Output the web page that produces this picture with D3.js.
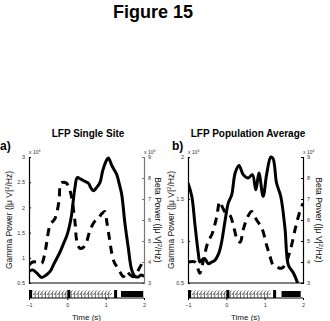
<!DOCTYPE html>
<html><head><meta charset="utf-8">
<script src="https://cdn.jsdelivr.net/npm/d3@7"></script>
<style>body{margin:0;background:#fff}svg{display:block;font-family:"Liberation Sans",Arial,sans-serif}</style>
</head><body><svg id="c" width="330" height="321"></svg>
<script>
// ---------- data ----------
const figTitle = "Figure 15";
const panelTitles = ["LFP Single Site", "LFP Population Average"];
const panelLetters = ["a)", "b)"];
const timeTicks = [-1, 0, 1, 2];

// Panel a
const aGammaT = [-1,-0.9,-0.8,-0.67,-0.55,-0.45,-0.35,-0.2,-0.1,0.0,0.1,0.15,0.2,0.26,0.35,0.45,0.55,0.62,0.68,0.75,0.85,0.92,1.0,1.07,1.15,1.22,1.29,1.36,1.42,1.5,1.59,1.68,1.77,1.85,1.92,2.0];
const aGammaV = [0.73,0.76,0.70,0.61,0.66,0.73,0.88,1.1,1.28,1.47,1.8,2.1,2.4,2.59,2.56,2.52,2.48,2.38,2.33,2.38,2.49,2.72,2.9,2.98,2.85,2.75,2.65,2.45,2.25,1.7,1.2,0.76,0.63,0.62,0.66,0.63];
const aBetaT = [-1,-0.9,-0.8,-0.67,-0.6,-0.54,-0.45,-0.32,-0.22,-0.17,-0.1,-0.02,0.05,0.11,0.2,0.25,0.33,0.42,0.49,0.59,0.7,0.81,0.9,0.98,1.03,1.1,1.16,1.22,1.29,1.38,1.46,1.55,1.63,1.72,1.8,1.9,2.0];
const aBetaV = [3.86,4.0,4.0,3.94,4.3,4.9,5.76,6.08,6.87,7.75,7.8,7.75,7.5,7.1,5.9,4.97,4.65,4.7,4.9,5.5,5.9,6.08,6.3,6.4,5.9,5.1,4.41,4.0,3.78,3.5,3.3,3.54,3.4,3.3,3.45,3.78,4.1];
const aGammaTicks = [0.5, 1, 1.5, 2, 2.5, 3];

// Panel b
const bGammaT = [-1,-0.9,-0.82,-0.73,-0.69,-0.62,-0.56,-0.47,-0.38,-0.3,-0.2,-0.13,-0.03,0.05,0.14,0.23,0.33,0.44,0.57,0.68,0.77,0.85,0.96,1.05,1.16,1.22,1.31,1.42,1.53,1.62,1.75,1.86];
const bGammaV = [1.69,1.53,1.2,0.85,0.75,0.78,0.79,0.73,0.75,0.77,0.85,0.97,1.25,1.45,1.55,1.81,1.9,1.79,1.75,1.79,1.61,1.81,1.53,1.79,2.0,1.98,1.69,1.53,1.15,0.71,0.62,0.5];
const bBetaT = [-1,-0.82,-0.73,-0.69,-0.62,-0.56,-0.47,-0.38,-0.26,-0.17,-0.1,0.0,0.09,0.2,0.3,0.36,0.45,0.57,0.66,0.79,0.93,1.05,1.13,1.22,1.33,1.44,1.53,1.66,1.8,1.9,2.0];
const bBetaV = [4.0,4.0,3.62,3.46,3.9,4.41,5.0,5.3,6.08,6.87,6.6,6.3,6.24,5.6,5.0,4.95,5.6,6.2,6.4,6.0,5.6,4.8,4.33,3.86,3.75,3.7,3.86,4.5,5.6,6.3,6.8];
const bGammaTicks = [0.5, 1, 1.5, 2];

const betaTicks = [3, 4, 5, 6, 7, 8, 9];

// raster events (s)
const spikeTimes = [-0.93,-0.84,-0.75,-0.66,-0.57,-0.48,-0.39,-0.3,-0.21,-0.12,-0.04,0.1,0.19,0.28,0.37,0.46,0.55,0.64,0.73,0.82,0.91,1.0,1.08];
const markerEvents = [-1, 0, 1.22];
const aBlock = [1.4, 1.98];
const bBlock = [1.44, 1.94];

// ---------- drawing ----------
const svg = d3.select("#c");
const fmt = d3.format("");
svg.append("text").attr("x",153).attr("y",18).attr("text-anchor","middle")
  .attr("font-weight","bold").attr("font-size",18).text(figTitle);

function panel(o){
  const g = svg.append("g");
  const x = d3.scaleLinear().domain([-1,2]).range([o.x0,o.x1]);
  const yL = d3.scaleLinear().domain(o.gDomain).range([283,157]);
  const yR = d3.scaleLinear().domain([3,9]).range([283,157]);

  // titles
  g.append("text").attr("x",o.titleX).attr("y",137).attr("text-anchor","middle")
    .attr("font-weight","bold").attr("font-size",10).text(o.title);
  g.append("text").attr("x",o.letterX).attr("y",150)
    .attr("font-weight","bold").attr("font-size",12).text(o.letter);

  // left axis
  const la = g.append("g").attr("transform",`translate(${o.x0},0)`)
    .call(d3.axisLeft(yL).tickValues(o.gTicks).tickSize(-2).tickPadding(4).tickFormat(fmt));
  la.select(".domain").attr("stroke","#000").attr("stroke-width",1.2);
  la.selectAll("text").attr("font-size",5.5).attr("fill","#333").attr("font-family","Liberation Sans, Arial");
  // right axis
  const ra = g.append("g").attr("transform",`translate(${o.x1},0)`)
    .call(d3.axisRight(yR).tickValues(betaTicks).tickSize(-2).tickPadding(4).tickFormat(fmt));
  ra.select(".domain").attr("stroke",o.rightColor).attr("stroke-width",1.2);
  ra.selectAll("line").attr("stroke",o.rightColor);
  ra.selectAll("text").attr("font-size",5.5).attr("fill","#333").attr("font-family","Liberation Sans, Arial");
  // bottom line
  g.append("line").attr("x1",o.x0).attr("x2",o.x1).attr("y1",283).attr("y2",283).attr("stroke","#000");

  // x10^4 labels
  [o.x0, o.x1].forEach(px=>{
    const t = g.append("text").attr("x",px).attr("y",154).attr("font-size",5).attr("fill","#333");
    t.append("tspan").text("x 10");
    t.append("tspan").attr("dy",-2).attr("font-size",3.5).text("4");
  });

  // y labels
  const yl = g.append("text").attr("transform",`translate(${o.gLabelX},220) rotate(-90)`)
    .attr("text-anchor","middle").attr("font-size",8.5).attr("fill","#111");
  yl.append("tspan").text("Gamma Power (|μ V|");
  yl.append("tspan").attr("dy",-3).attr("font-size",6).text("2");
  yl.append("tspan").attr("dy",3).text("/Hz)");
  const yr = g.append("text").attr("transform",`translate(${o.bLabelX},220) rotate(90)`)
    .attr("text-anchor","middle").attr("font-size",8.5).attr("fill","#111");
  yr.append("tspan").text("Beta Power (|μ V|");
  yr.append("tspan").attr("dy",-3).attr("font-size",6).text("2");
  yr.append("tspan").attr("dy",3).text("/Hz)");

  // curves
  const clipId = "clip"+o.letter[0];
  svg.append("clipPath").attr("id",clipId).append("rect")
    .attr("x",o.x0).attr("y",150).attr("width",o.x1-o.x0).attr("height",133);
  const gammaData = o.gT.map((t,i)=>[t,o.gV[i]]);
  const betaData = o.bT.map((t,i)=>[t,o.bV[i]]);
  const lineG = d3.line().x(d=>x(d[0])).y(d=>yL(d[1])).curve(d3.curveCatmullRom);
  const lineB = d3.line().x(d=>x(d[0])).y(d=>yR(d[1])).curve(d3.curveCatmullRom);
  const cg = g.append("g").attr("clip-path",`url(#${clipId})`);
  cg.append("path").datum(betaData).attr("d",lineB).attr("fill","none").attr("stroke","#000")
    .attr("stroke-width",3).attr("stroke-dasharray","8,6");
  cg.append("path").datum(gammaData).attr("d",lineG).attr("fill","none").attr("stroke","#000")
    .attr("stroke-width",3).attr("stroke-linejoin","round");

  // raster strip
  const ry = 298;
  g.append("line").attr("x1",o.x0).attr("x2",o.x1).attr("y1",ry).attr("y2",ry).attr("stroke","#000");
  spikeTimes.forEach(t=>{
    const px = x(t);
    g.append("path").attr("d",`M${px},${ry} L${px},${ry-6} L${px+1.5},${ry-7.5} M${px+1.5},${ry-3} L${px+3},${ry-5}`)
      .attr("fill","none").attr("stroke","#222").attr("stroke-width",0.7);
  });
  markerEvents.forEach(t=>{
    g.append("rect").attr("x",x(t)).attr("y",ry-8).attr("width",3).attr("height",8).attr("fill","#000");
  });
  g.append("rect").attr("x",x(o.block[0])).attr("y",ry-7).attr("width",x(o.block[1])-x(o.block[0]))
    .attr("height",6).attr("fill","#000");

  // time axis
  const ta = g.append("g").attr("transform",`translate(0,${ry})`)
    .call(d3.axisBottom(x).tickValues(timeTicks).tickSize(2).tickPadding(3).tickFormat(fmt));
  ta.select(".domain").remove();
  ta.selectAll("text").attr("font-size",5.5).attr("fill","#333").attr("font-family","Liberation Sans, Arial");
  g.append("text").attr("x",(o.x0+o.x1)/2).attr("y",320).attr("text-anchor","middle")
    .attr("font-size",8).attr("fill","#111").text("Time (s)");
}

panel({x0:29,x1:144,gDomain:[0.5,3],gTicks:aGammaTicks,title:panelTitles[0],titleX:88,letter:panelLetters[0],letterX:0,
  rightColor:"#777",gLabelX:12,bLabelX:155,gT:aGammaT,gV:aGammaV,bT:aBetaT,bV:aBetaV,block:aBlock});
panel({x0:188,x1:303,gDomain:[0.5,2],gTicks:bGammaTicks,title:panelTitles[1],titleX:248,letter:panelLetters[1],letterX:172,
  rightColor:"#000",gLabelX:174,bLabelX:316,gT:bGammaT,gV:bGammaV,bT:bBetaT,bV:bBetaV,block:bBlock});
</script></body></html>
